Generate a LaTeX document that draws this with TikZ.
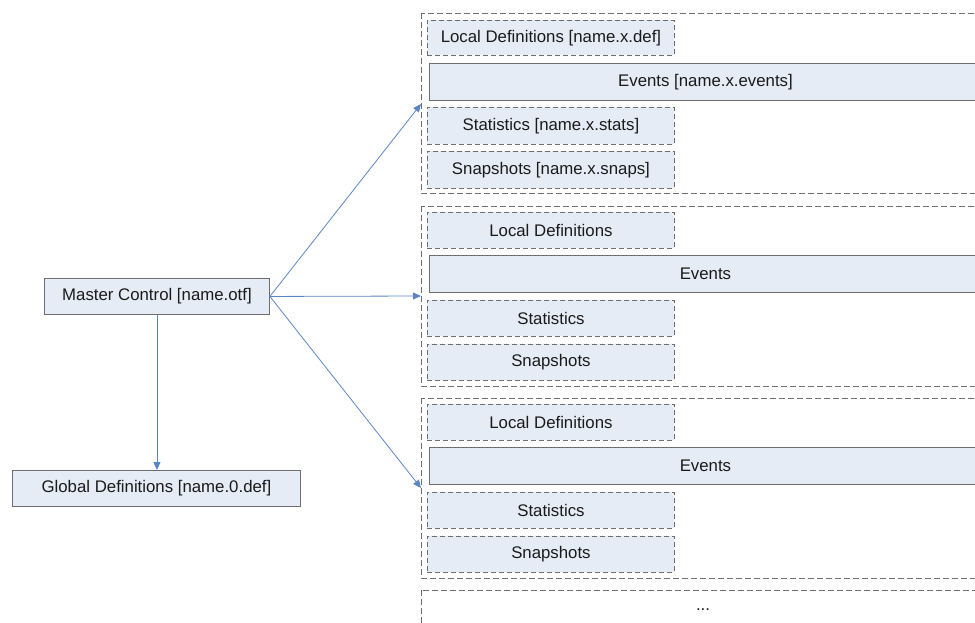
\documentclass[tikz,border=0pt]{standalone}
\usepackage{fontspec}
\setmainfont{Liberation Sans}
\usepackage{xcolor}
\usepackage{tikz}
\usetikzlibrary{arrows.meta}
\definecolor{ink}{HTML}{1A1A1A}
\definecolor{paleblue}{HTML}{E6ECF6}
\definecolor{frame}{HTML}{6E6E6E}
\definecolor{link}{HTML}{5B86C6}

\tikzset{
  part/.style={draw=frame,fill=paleblue,line width=0.9pt,anchor=north west,inner sep=0pt,
    text=ink,font=\fontsize{16.8}{19}\selectfont},
  dpart/.style={part,dash pattern=on 5pt off 3pt},
  group/.style={draw=frame,line width=0.9pt,dash pattern=on 6pt off 3pt},
  flow/.style={link,line width=0.8pt,-{Triangle[length=8pt,width=7pt]}}
}

\begin{document}
\begin{tikzpicture}[x=1pt,y=-1pt]
  \useasboundingbox (0,0) rectangle (975,623);
  \clip (0,0) rectangle (975,623);
  % left side
  \node[part,minimum width=225,minimum height=36] (master) at (44,278) {Master Control [name.otf]};
  \node[part,minimum width=288,minimum height=36] (global) at (12,470) {Global Definitions [name.0.def]};
  % first file group
  \draw[group] (421,13) rectangle (990,193);
  \node[dpart,minimum width=247,minimum height=35] (def1) at (427,20) {Local Definitions [name.x.def]};
  \node[part,minimum width=552,minimum height=37] (ev1) at (429,63) {Events [name.x.events]};
  \node[dpart,minimum width=247,minimum height=37] (st1) at (427,107) {Statistics [name.x.stats]};
  \node[dpart,minimum width=247,minimum height=37] (sn1) at (427,151) {Snapshots [name.x.snaps]};
  \coordinate (in1) at (421,104);
  % further groups
  \foreach \g/\y in {2/206,3/398} {
    \draw[group] (421,\y) rectangle (990,\y+180);
    \node[dpart,minimum width=247,minimum height=36] (def\g) at (427,\y+6) {Local Definitions};
    \node[part,minimum width=552,minimum height=37] (ev\g) at (429,\y+49) {Events};
    \node[dpart,minimum width=247,minimum height=36] (st\g) at (427,\y+94) {Statistics};
    \node[dpart,minimum width=247,minimum height=36] (sn\g) at (427,\y+138) {Snapshots};
    \coordinate (in\g) at (421,\y+90);
  }
  \draw[group] (421,590) rectangle (990,700);
  \node[text=ink,font=\fontsize{16.8}{19}\selectfont] (more) at (703,610) {...};
  % links
  \draw[flow] (master.south) -- (global.north -| master.south);
  \foreach \g in {1,2,3} \draw[flow] (master.east) -- (in\g);
\end{tikzpicture}
\end{document}
